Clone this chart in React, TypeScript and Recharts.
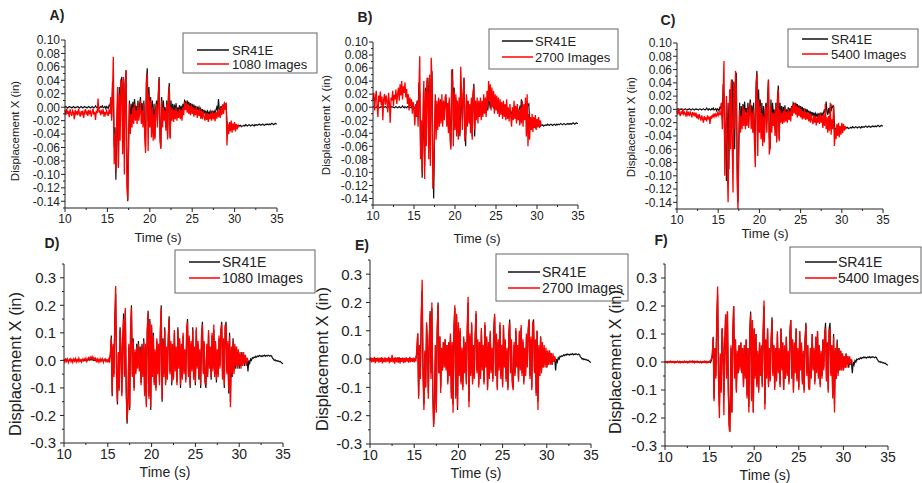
import React from 'react';
import { LineChart, Line, XAxis, YAxis } from 'recharts';

// ---------- DATA ----------
const START_TIME = 10; // s
const TIME_STEP = 0.1; // s

const timeTicks = [10, 12.5, 15, 17.5, 20, 22.5, 25, 27.5, 30, 32.5, 35];
const timeLabels = [10, 15, 20, 25, 30, 35];
const topTicks = [-0.15, -0.14, -0.13, -0.12, -0.11, -0.1, -0.09, -0.08, -0.07, -0.06, -0.05, -0.04, -0.03, -0.02, -0.01, 0, 0.01, 0.02, 0.03, 0.04, 0.05, 0.06, 0.07, 0.08, 0.09, 0.1];
const topLabels = [-0.14, -0.12, -0.1, -0.08, -0.06, -0.04, -0.02, 0, 0.02, 0.04, 0.06, 0.08, 0.1];
const bottomTicks = [-0.3, -0.25, -0.2, -0.15, -0.1, -0.05, 0, 0.05, 0.1, 0.15, 0.2, 0.25, 0.3, 0.35];
const bottomLabels = [-0.3, -0.2, -0.1, 0, 0.1, 0.2, 0.3];

const refName = 'SR41E';
const imageNames = ['1080 Images', '2700 Images', '5400 Images'];
const panelLetters = ['A)', 'B)', 'C)', 'D)', 'E)', 'F)'];

// SR41E reference, top row (t = 10.0 .. 35.0, every 0.1 s)
const sr41eTop = [
  0.000, 0.001, 0.000, -0.001, 0.000, 0.001, 0.000, 0.000, -0.001, 0.000,
  0.001, 0.000, -0.001, 0.000, 0.000, 0.001, 0.000, -0.001, 0.000, 0.001,
  0.000, -0.001, 0.000, 0.001, 0.000, 0.000, -0.001, 0.000, 0.001, 0.000,
  -0.001, 0.000, 0.001, 0.000, -0.001, 0.000, 0.002, 0.000, -0.001, 0.001,
  0.000, -0.001, 0.001, 0.000, 0.002, -0.001, 0.000, 0.001, -0.002, 0.001,
  0.000, -0.002, 0.003, 0.002, 0.010, -0.015, 0.038, 0.020, -0.060, -0.030,
  -0.108, -0.040, 0.010, -0.090, 0.030, -0.020, 0.040, 0.045, -0.030, 0.042,
  -0.060, 0.035, 0.055, -0.080, -0.140, -0.050, 0.010, -0.030, 0.005, -0.015,
  0.008, -0.010, 0.012, -0.005, 0.002, -0.012, 0.010, -0.008, 0.004, 0.015,
  -0.010, 0.006, -0.020, 0.010, -0.030, -0.060, 0.040, 0.058, -0.020, 0.030,
  -0.010, 0.015, -0.030, 0.010, -0.040, 0.005, -0.045, 0.000, 0.010, -0.020,
  0.020, 0.045, -0.040, -0.060, 0.015, -0.020, 0.010, -0.010, 0.000, -0.030,
  0.010, -0.045, 0.020, 0.036, -0.045, 0.010, -0.010, 0.005, -0.015, 0.004,
  -0.008, 0.006, -0.012, 0.000, -0.010, 0.003, -0.008, 0.002, -0.010, 0.005,
  -0.005, 0.010, 0.008, -0.002, 0.010, 0.004, 0.008, -0.002, 0.006, 0.000,
  0.005, -0.004, 0.004, -0.005, 0.002, -0.006, 0.001, -0.004, 0.000, -0.006,
  -0.002, -0.008, -0.003, -0.009, -0.004, -0.010, -0.005, -0.011, -0.006, -0.010,
  -0.007, -0.012, -0.006, -0.010, -0.005, -0.011, -0.006, -0.009, -0.004, 0.000,
  -0.006, 0.012, -0.004, -0.008, 0.002, -0.006, 0.004, -0.003, 0.006, 0.003,
  0.005, -0.020, -0.035, -0.028, -0.032, -0.026, -0.030, -0.027, -0.031, -0.028,
  -0.030, -0.027, -0.029, -0.028, -0.029, -0.027, -0.028, -0.027, -0.029, -0.028,
  -0.028, -0.027, -0.028, -0.026, -0.027, -0.028, -0.027, -0.026, -0.027, -0.028,
  -0.027, -0.026, -0.027, -0.028, -0.026, -0.027, -0.026, -0.027, -0.026, -0.025,
  -0.026, -0.027, -0.026, -0.025, -0.026, -0.027, -0.026, -0.025, -0.026, -0.025,
  -0.026, -0.025, -0.026, -0.025, -0.024, -0.025, -0.026, -0.025, -0.024, -0.025,
  -0.025,
];

// 1080 images, top row (t = 10.0 .. 30.5)
const imagesA = [
  -0.004, -0.012, -0.002, -0.010, -0.006, -0.015, -0.003, -0.009, -0.013, -0.005,
  -0.008, -0.018, -0.004, -0.010, -0.007, -0.012, -0.002, -0.009, -0.014, -0.006,
  -0.010, -0.005, -0.016, -0.008, -0.003, -0.011, -0.007, -0.013, -0.004, -0.009,
  -0.006, -0.014, -0.008, -0.002, -0.011, -0.007, -0.019, -0.005, -0.009, 0.013,
  -0.008, -0.004, -0.012, -0.006, -0.010, -0.003, -0.014, -0.007, -0.011, -0.005,
  -0.009, -0.013, -0.004, -0.010, 0.015, -0.020, 0.020, 0.075, -0.085, -0.040,
  -0.095, -0.020, 0.030, -0.090, 0.020, -0.050, 0.040, 0.035, -0.070, 0.045,
  -0.100, 0.030, 0.055, -0.120, -0.138, -0.060, 0.005, -0.040, -0.010, -0.030,
  0.000, -0.025, 0.005, -0.020, -0.005, -0.025, 0.005, -0.020, -0.008, 0.010,
  -0.025, -0.005, -0.030, 0.005, -0.040, -0.068, 0.035, 0.050, -0.065, 0.020,
  -0.030, 0.010, -0.045, 0.000, -0.050, -0.010, -0.048, -0.005, 0.005, -0.030,
  0.010, 0.042, -0.050, -0.062, 0.010, -0.030, 0.000, -0.020, -0.005, -0.035,
  0.005, -0.048, 0.015, 0.030, -0.047, 0.000, -0.020, -0.002, -0.022, -0.004,
  -0.018, 0.000, -0.020, -0.006, -0.016, -0.002, -0.018, -0.004, -0.020, 0.000,
  -0.012, 0.008, -0.004, 0.006, -0.008, 0.005, -0.010, 0.002, -0.012, 0.004,
  -0.010, 0.000, -0.014, -0.002, -0.012, 0.001, -0.016, -0.004, -0.013, -0.002,
  -0.017, -0.005, -0.018, -0.006, -0.014, -0.020, -0.008, -0.019, -0.009, -0.022,
  -0.010, -0.018, -0.008, -0.020, -0.006, -0.018, -0.009, -0.021, -0.007, -0.017,
  -0.005, -0.015, -0.003, -0.016, 0.000, -0.012, 0.004, -0.010, 0.007, -0.004,
  0.006, -0.057, -0.025, -0.040, -0.022, -0.036, -0.020, -0.038, -0.024, -0.034,
  -0.022, -0.036, -0.025, -0.033, -0.026, -0.030,
];

// 2700 images, top row (t = 10.0 .. 30.5)
const imagesB = [
  0.010, 0.022, -0.005, 0.015, 0.025, 0.002, -0.015, 0.018, 0.008, 0.024,
  0.003, 0.016, -0.020, 0.012, 0.020, 0.004, 0.018, 0.009, -0.008, 0.022,
  0.006, -0.024, 0.015, 0.010, 0.025, 0.002, 0.019, 0.012, 0.027, 0.005,
  0.020, 0.030, 0.010, 0.035, 0.018, 0.040, 0.012, 0.032, 0.022, 0.038,
  0.015, 0.028, 0.005, 0.020, -0.005, 0.015, 0.002, 0.012, -0.010, 0.008,
  -0.005, -0.028, 0.005, -0.015, 0.010, -0.030, 0.025, 0.078, -0.080, -0.020,
  -0.100, 0.000, 0.040, -0.110, 0.025, -0.060, 0.045, 0.020, -0.080, 0.050,
  -0.090, 0.076, 0.040, -0.125, -0.100, -0.040, 0.020, -0.050, 0.010, -0.035,
  0.015, -0.030, 0.010, -0.025, 0.020, -0.030, 0.010, -0.020, 0.015, 0.020,
  -0.030, 0.005, -0.040, 0.015, -0.050, -0.065, 0.058, 0.040, -0.060, 0.025,
  -0.035, 0.020, -0.045, 0.010, -0.050, 0.015, -0.040, 0.062, 0.020, -0.035,
  0.015, 0.045, -0.052, -0.040, 0.020, -0.030, 0.010, -0.025, 0.005, -0.040,
  0.015, -0.050, 0.020, 0.032, -0.035, 0.010, -0.020, 0.015, -0.025, 0.010,
  -0.015, 0.015, -0.020, 0.010, -0.015, 0.020, -0.010, 0.015, -0.015, 0.025,
  0.000, 0.040, 0.010, 0.035, -0.005, 0.030, 0.000, 0.025, -0.010, 0.020,
  -0.005, 0.018, -0.010, 0.015, -0.015, 0.012, -0.012, 0.008, -0.018, 0.010,
  -0.015, 0.005, -0.020, 0.012, -0.018, 0.000, -0.022, 0.005, -0.015, -0.030,
  0.000, -0.020, 0.010, -0.018, 0.002, -0.025, 0.005, -0.020, -0.005, -0.028,
  0.000, -0.025, 0.010, -0.030, 0.005, -0.020, 0.015, -0.045, 0.020, -0.060,
  -0.010, -0.050, -0.015, -0.035, -0.010, -0.038, -0.015, -0.032, -0.012, -0.035,
  -0.018, -0.030, -0.015, -0.032, -0.020, -0.028,
];

// 5400 images, top row (t = 10.0 .. 30.5)
const imagesC = [
  -0.002, -0.008, 0.002, -0.006, -0.010, -0.003, -0.007, 0.001, -0.009, -0.004,
  -0.006, -0.011, -0.002, -0.008, -0.005, -0.010, -0.003, -0.007, -0.012, -0.004,
  -0.008, -0.006, -0.011, -0.005, -0.013, -0.008, -0.015, -0.007, -0.012, -0.017,
  -0.009, -0.014, -0.020, -0.010, -0.016, -0.012, -0.018, -0.009, -0.015, -0.011,
  -0.022, -0.010, -0.014, -0.008, -0.012, -0.006, -0.011, -0.007, -0.010, -0.005,
  -0.009, -0.004, -0.008, -0.008, 0.010, -0.030, 0.020, 0.073, -0.100, -0.030,
  0.020, -0.080, -0.140, -0.040, 0.030, -0.060, 0.045, -0.050, -0.125, 0.040,
  -0.030, 0.058, 0.030, -0.110, -0.150, -0.060, 0.000, -0.035, -0.010, -0.030,
  0.005, -0.025, 0.000, -0.030, -0.005, -0.025, 0.005, -0.028, -0.005, 0.010,
  -0.030, -0.005, -0.035, 0.000, -0.050, -0.087, 0.030, 0.052, -0.070, 0.015,
  -0.035, 0.005, -0.045, -0.005, -0.055, -0.010, -0.050, -0.005, 0.005, -0.035,
  0.010, 0.044, -0.068, -0.055, 0.005, -0.035, -0.005, -0.025, -0.005, -0.040,
  0.005, -0.050, 0.015, 0.030, -0.048, 0.000, -0.020, -0.005, -0.022, -0.002,
  -0.020, 0.002, -0.018, -0.004, -0.020, 0.000, -0.016, -0.003, -0.018, 0.004,
  -0.010, 0.008, -0.006, 0.010, -0.008, 0.006, -0.012, 0.004, -0.010, 0.003,
  -0.012, 0.000, -0.015, -0.003, -0.014, 0.000, -0.016, -0.005, -0.015, -0.004,
  -0.018, -0.006, -0.020, -0.008, -0.016, -0.022, -0.009, -0.020, -0.010, -0.024,
  -0.012, -0.020, -0.008, -0.022, -0.006, -0.020, -0.010, -0.028, -0.008, -0.025,
  0.008, -0.030, -0.012, -0.035, -0.010, -0.032, 0.010, -0.038, -0.015, -0.030,
  0.005, -0.055, -0.030, -0.045, -0.022, -0.040, -0.020, -0.042, -0.025, -0.038,
  -0.020, -0.036, -0.022, -0.032, -0.025, -0.030,
];

// SR41E reference, bottom row (t = 10.0 .. 35.0)
const sr41eBottom = [
  0.000, 0.002, -0.001, 0.001, 0.000, -0.002, 0.001, 0.000, 0.002, -0.001,
  0.000, 0.001, -0.002, 0.000, 0.002, 0.000, -0.001, 0.001, 0.000, -0.002,
  0.001, 0.000, 0.002, -0.001, 0.000, 0.001, -0.002, 0.000, 0.003, 0.001,
  0.002, 0.004, 0.001, 0.003, 0.000, 0.002, -0.001, 0.001, 0.000, -0.002,
  0.001, 0.000, -0.002, 0.001, 0.000, -0.001, 0.002, 0.000, -0.002, 0.001,
  0.000, -0.002, 0.005, 0.020, 0.090, -0.130, 0.050, -0.050, 0.150, 0.240,
  -0.050, -0.160, 0.020, -0.100, 0.120, 0.050, -0.120, 0.060, 0.170, -0.050,
  0.180, -0.100, -0.230, -0.150, 0.050, -0.180, 0.100, 0.200, -0.050, 0.080,
  -0.100, 0.030, -0.040, 0.060, -0.020, 0.070, -0.030, 0.050, -0.080, 0.060,
  -0.050, 0.080, -0.120, 0.050, -0.160, 0.100, 0.180, -0.130, 0.150, -0.180,
  0.120, -0.050, 0.100, -0.080, 0.030, -0.100, 0.070, -0.040, 0.050, -0.080,
  0.100, 0.200, -0.150, 0.080, -0.050, 0.120, -0.080, 0.040, -0.060, 0.080,
  0.160, -0.040, 0.060, -0.090, 0.050, -0.060, 0.100, -0.030, 0.040, -0.080,
  0.120, -0.020, 0.070, -0.100, 0.050, -0.060, 0.090, -0.040, 0.030, -0.070,
  0.100, 0.150, -0.050, 0.080, -0.100, 0.060, -0.030, 0.120, -0.060, 0.040,
  -0.090, 0.110, -0.020, 0.060, -0.070, 0.030, -0.100, 0.080, 0.140, -0.040,
  0.060, -0.080, -0.100, 0.050, -0.050, 0.100, -0.020, 0.040, -0.070, 0.090,
  -0.030, 0.110, -0.050, 0.060, -0.080, 0.030, -0.050, 0.080, -0.020, 0.100,
  0.140, -0.060, 0.070, -0.100, 0.120, 0.140, -0.040, 0.060, -0.120, 0.100,
  -0.150, 0.040, -0.060, 0.080, -0.040, 0.050, -0.030, 0.040, -0.020, 0.030,
  -0.030, 0.020, -0.020, 0.030, -0.010, 0.020, -0.020, 0.010, -0.010, 0.000,
  -0.040, 0.000, -0.010, 0.005, 0.000, 0.010, 0.008, 0.012, 0.010, 0.015,
  0.012, 0.016, 0.014, 0.018, 0.015, 0.017, 0.014, 0.018, 0.016, 0.019,
  0.015, 0.018, 0.016, 0.019, 0.017, 0.015, 0.018, 0.016, 0.008, 0.005,
  0.000, 0.002, -0.002, 0.000, -0.003, -0.002, -0.005, -0.004, -0.008, -0.010,
  -0.012,
];

// 1080 images, bottom row (t = 10.0 .. 31.0)
const imagesD = [
  0.004, -0.006, 0.008, -0.003, 0.005, -0.008, 0.002, 0.006, -0.005, 0.003,
  -0.007, 0.005, -0.002, 0.007, -0.006, 0.003, -0.004, 0.008, -0.003, 0.002,
  -0.006, 0.004, -0.002, 0.006, 0.000, 0.008, -0.004, 0.005, 0.010, 0.003,
  0.012, 0.006, 0.014, 0.004, 0.010, 0.002, 0.008, -0.003, 0.005, -0.006,
  0.004, -0.005, 0.006, -0.002, 0.005, -0.007, 0.003, 0.006, -0.004, 0.002,
  -0.005, 0.004, -0.008, 0.030, 0.080, -0.120, 0.060, -0.060, 0.140, 0.270,
  -0.060, -0.150, 0.030, -0.110, 0.110, 0.040, -0.130, 0.070, 0.150, -0.060,
  0.190, -0.110, -0.220, -0.160, 0.060, -0.170, 0.110, 0.190, -0.060, 0.070,
  -0.110, 0.040, -0.050, 0.050, -0.030, 0.060, -0.040, 0.040, -0.090, 0.050,
  -0.060, 0.070, -0.130, 0.060, -0.170, 0.110, 0.170, -0.140, 0.140, -0.170,
  0.130, -0.060, 0.090, -0.090, 0.040, -0.110, 0.080, -0.050, 0.060, -0.090,
  0.110, 0.190, -0.140, 0.070, -0.060, 0.110, -0.090, 0.050, -0.070, 0.070,
  0.150, -0.050, 0.070, -0.080, 0.060, -0.070, 0.110, -0.040, 0.050, -0.090,
  0.110, -0.030, 0.080, -0.090, 0.060, -0.070, 0.100, -0.050, 0.040, -0.080,
  0.110, 0.140, -0.060, 0.090, -0.090, 0.070, -0.040, 0.110, -0.070, 0.050,
  -0.080, 0.120, -0.030, 0.070, -0.060, 0.040, -0.090, 0.090, 0.130, -0.050,
  0.070, -0.070, -0.090, 0.060, -0.060, 0.110, -0.030, 0.050, -0.060, 0.100,
  -0.040, 0.130, -0.060, 0.070, -0.070, 0.040, -0.060, 0.090, -0.030, 0.110,
  0.130, -0.070, 0.080, -0.090, 0.130, 0.120, -0.050, 0.070, -0.110, 0.090,
  -0.170, 0.050, -0.050, 0.070, -0.050, 0.060, -0.020, 0.050, -0.030, 0.040,
  -0.020, 0.030, -0.030, 0.020, -0.020, 0.030, -0.010, 0.020, -0.020, 0.010,
  0.000,
];

// 2700 images, bottom row (t = 10.0 .. 31.0)
const imagesE = [
  -0.008, 0.006, -0.012, 0.003, -0.010, 0.008, -0.014, 0.002, -0.009, 0.005,
  -0.013, 0.004, -0.010, 0.007, -0.015, 0.001, -0.011, 0.006, -0.012, 0.003,
  -0.009, 0.008, -0.014, 0.002, -0.010, 0.015, -0.012, 0.004, -0.016, 0.006,
  -0.011, 0.003, -0.013, 0.007, -0.015, 0.002, -0.010, 0.005, -0.014, 0.004,
  -0.012, 0.006, -0.009, 0.003, -0.013, 0.008, -0.011, 0.002, -0.010, 0.005,
  -0.012, 0.004, -0.008, 0.040, 0.090, -0.140, 0.050, -0.070, 0.150, 0.280,
  -0.050, -0.180, 0.030, -0.100, 0.130, 0.050, -0.140, 0.060, 0.160, -0.070,
  0.200, -0.120, -0.240, -0.170, 0.050, -0.190, 0.100, 0.190, -0.050, 0.080,
  -0.120, 0.040, -0.040, 0.060, -0.030, 0.070, -0.040, 0.050, -0.090, 0.060,
  -0.060, 0.090, -0.140, 0.060, -0.190, 0.120, 0.190, -0.140, 0.160, -0.170,
  0.130, -0.060, 0.110, -0.090, 0.040, -0.110, 0.080, -0.050, 0.060, -0.090,
  0.110, 0.220, -0.170, 0.090, -0.060, 0.130, -0.090, 0.050, -0.070, 0.090,
  0.170, -0.050, 0.070, -0.100, 0.060, -0.070, 0.110, -0.040, 0.050, -0.090,
  0.130, -0.030, 0.080, -0.110, 0.060, -0.070, 0.100, -0.050, 0.040, -0.080,
  0.110, 0.160, -0.060, 0.090, -0.110, 0.070, -0.040, 0.130, -0.070, 0.050,
  -0.100, 0.120, -0.030, 0.070, -0.080, 0.040, -0.110, 0.090, 0.130, -0.050,
  0.070, -0.090, -0.110, 0.060, -0.060, 0.110, -0.030, 0.050, -0.080, 0.100,
  -0.040, 0.120, -0.060, 0.070, -0.090, 0.040, -0.060, 0.090, -0.030, 0.110,
  0.140, -0.070, 0.080, -0.110, 0.130, 0.130, -0.050, 0.070, -0.130, 0.100,
  -0.180, 0.050, -0.060, 0.080, -0.050, 0.060, -0.030, 0.050, -0.030, 0.040,
  -0.030, 0.030, -0.020, 0.030, -0.020, 0.020, -0.020, 0.020, -0.010, 0.010,
  -0.005,
];

// 5400 images, bottom row (t = 10.0 .. 31.0)
const imagesF = [
  0.002, -0.002, 0.001, -0.003, 0.002, -0.001, 0.003, -0.002, 0.001, -0.002,
  0.002, -0.003, 0.001, -0.001, 0.003, -0.002, 0.002, -0.003, 0.001, -0.001,
  0.002, -0.002, 0.003, -0.001, 0.002, -0.003, 0.001, -0.002, 0.003, -0.001,
  0.002, -0.002, 0.001, -0.003, 0.002, -0.001, 0.003, -0.002, 0.001, -0.002,
  0.002, -0.003, 0.001, -0.001, 0.003, -0.002, 0.002, -0.003, 0.001, -0.001,
  0.003, 0.006, 0.010, 0.030, 0.085, -0.140, 0.050, -0.060, 0.140, 0.270,
  -0.060, -0.200, 0.030, -0.110, 0.120, 0.040, -0.190, 0.070, 0.170, -0.060,
  0.180, -0.110, -0.240, -0.250, 0.060, -0.180, 0.110, 0.200, -0.060, 0.080,
  -0.110, 0.040, -0.040, 0.060, -0.030, 0.070, -0.040, 0.050, -0.090, 0.060,
  -0.060, 0.080, -0.130, 0.050, -0.180, 0.110, 0.170, -0.140, 0.150, -0.180,
  0.120, -0.060, 0.100, -0.090, 0.040, -0.110, 0.070, -0.050, 0.060, -0.090,
  0.110, 0.220, -0.170, 0.080, -0.060, 0.120, -0.090, 0.050, -0.070, 0.080,
  0.150, -0.050, 0.060, -0.100, 0.050, -0.070, 0.110, -0.040, 0.050, -0.090,
  0.120, -0.030, 0.070, -0.100, 0.060, -0.060, 0.090, -0.050, 0.040, -0.080,
  0.110, 0.150, -0.060, 0.080, -0.110, 0.070, -0.040, 0.120, -0.070, 0.050,
  -0.100, 0.110, -0.030, 0.070, -0.080, 0.040, -0.110, 0.080, 0.130, -0.050,
  0.060, -0.090, -0.100, 0.050, -0.060, 0.100, -0.030, 0.050, -0.080, 0.090,
  -0.040, 0.110, -0.060, 0.060, -0.090, 0.040, -0.060, 0.080, -0.030, 0.100,
  0.120, -0.070, 0.070, -0.110, 0.110, 0.120, -0.050, 0.060, -0.130, 0.090,
  -0.180, 0.050, -0.060, 0.070, -0.050, 0.050, -0.030, 0.040, -0.030, 0.030,
  -0.030, 0.020, -0.020, 0.030, -0.020, 0.020, -0.010, 0.020, -0.010, 0.010,
  0.000,
];

// ---------- LAYOUT / STYLE ----------
const FONT = '"Liberation Sans", Arial, sans-serif';
const TEXT = '#222';
const REF_COLOR = '#111';
const IMG_COLOR = '#ff0000';

const topStyle = { domain: [-0.15, 0.1], ticks: topTicks, labels: topLabels, digits: 2, yFont: 12, xFont: 12, yLen: 4, yGap: 1, xLen: 4, xGap: 2 };
const bottomStyle = { domain: [-0.3, 0.35], ticks: bottomTicks, labels: bottomLabels, digits: 1, yFont: 15, xFont: 14, yLen: 4, yGap: 4, xLen: 4, xGap: 2 };

const panels = [
  { ref: sr41eTop, img: imagesA, name: imageNames[0], letter: panelLetters[0], s: topStyle, plot: { l: 65, r: 277, t: 40, b: 208 },
    letterPos: [57, 15], yTitle: [15, 131, 11.5], xTitle: [158, 237, 13],
    legend: { x: 183, y: 33, w: 134, h: 40, rows: [50, 64], lx: [197, 229], tx: 232, fs: 13 } },
  { ref: sr41eTop, img: imagesB, name: imageNames[1], letter: panelLetters[1], s: topStyle, plot: { l: 373, r: 578, t: 42, b: 205 },
    letterPos: [365, 17], yTitle: [326, 125, 11.5], xTitle: [477, 238, 13],
    legend: { x: 489, y: 29, w: 129, h: 40, rows: [41, 57], lx: [502, 533], tx: 535, fs: 13 } },
  { ref: sr41eTop, img: imagesC, name: imageNames[2], letter: panelLetters[2], s: topStyle, plot: { l: 677, r: 883, t: 43, b: 209 },
    letterPos: [668, 20], yTitle: [631, 127, 11.5], xTitle: [765, 233, 13],
    legend: { x: 788, y: 29, w: 130, h: 38, rows: [39, 54], lx: [802, 828], tx: 831, fs: 13 } },
  { ref: sr41eBottom, img: imagesD, name: imageNames[0], letter: panelLetters[3], s: bottomStyle, plot: { l: 64, r: 283, t: 264, b: 443 },
    letterPos: [52, 243], yTitle: [15, 364, 16.5], xTitle: [165, 472, 14],
    legend: { x: 175, y: 250, w: 140, h: 43, rows: [262, 278], lx: [189, 220], tx: 222, fs: 14 } },
  { ref: sr41eBottom, img: imagesE, name: imageNames[1], letter: panelLetters[4], s: bottomStyle, plot: { l: 370, r: 591, t: 260, b: 444 },
    letterPos: [362, 245], yTitle: [322, 359, 16.5], xTitle: [476, 473, 14],
    legend: { x: 496, y: 254, w: 132, h: 47, rows: [272, 288], lx: [508, 540], tx: 542, fs: 14 } },
  { ref: sr41eBottom, img: imagesF, name: imageNames[2], letter: panelLetters[5], s: bottomStyle, plot: { l: 665, r: 888, t: 264, b: 446 },
    letterPos: [661, 240], yTitle: [615, 362, 16.5], xTitle: [765, 475, 14],
    legend: { x: 790, y: 247, w: 131, h: 46, rows: [262, 278], lx: [805, 837], tx: 838, fs: 14 } },
];

const isIn = (list: number[], v: number) => list.some((m) => Math.abs(m - v) < 1e-6);

function makeYTick(s: any) {
  return (props: any) => {
    const { x, y, payload } = props;
    const major = isIn(s.labels, payload.value);
    return (
      <g>
        <line x1={x - (major ? s.yLen : s.yLen / 2)} x2={x} y1={y} y2={y} stroke={TEXT} strokeWidth={1} />
        {major && (
          <text x={x - s.yLen - s.yGap} y={y} dy="0.36em" textAnchor="end" fontSize={s.yFont} fontFamily={FONT} fill={TEXT}>
            {payload.value.toFixed(s.digits)}
          </text>
        )}
      </g>
    );
  };
}

function makeXTick(s: any) {
  return (props: any) => {
    const { x, y, payload } = props;
    const major = isIn(timeLabels, payload.value);
    return (
      <g>
        <line x1={x} x2={x} y1={y} y2={y + (major ? s.xLen : s.xLen / 2)} stroke={TEXT} strokeWidth={1} />
        {major && (
          <text x={x} y={y + s.xLen + s.xGap} dy="0.74em" textAnchor="middle" fontSize={s.xFont} fontFamily={FONT} fill={TEXT}>
            {payload.value}
          </text>
        )}
      </g>
    );
  };
}

function Panel({ p }: { p: any }) {
  const YW = 50, MT = 8, MR = 8, XH = 30;
  const plotW = p.plot.r - p.plot.l;
  const plotH = p.plot.b - p.plot.t;
  const data = p.ref.map((v: number, i: number) => ({
    t: Math.round((START_TIME + i * TIME_STEP) * 10) / 10,
    ref: v,
    img: i < p.img.length ? p.img[i] : null,
  }));
  return (
    <div style={{ position: 'absolute', left: p.plot.l - YW, top: p.plot.t - MT }}>
      <LineChart width={YW + plotW + MR} height={MT + plotH + XH} data={data} margin={{ top: MT, right: MR, bottom: 0, left: 0 }}>
        <XAxis dataKey="t" type="number" domain={[10, 35]} ticks={timeTicks} interval={0} height={XH}
          tickSize={0} tickMargin={0} tickLine={false} axisLine={{ stroke: TEXT }} tick={makeXTick(p.s)} />
        <YAxis type="number" domain={p.s.domain} ticks={p.s.ticks} interval={0} width={YW} allowDataOverflow
          tickSize={0} tickMargin={0} tickLine={false} axisLine={{ stroke: TEXT }} tick={makeYTick(p.s)} />
        <Line dataKey="ref" name={refName} type="linear" stroke={REF_COLOR} strokeWidth={1.2} dot={false} activeDot={false} isAnimationActive={false} />
        <Line dataKey="img" name={p.name} type="linear" stroke={IMG_COLOR} strokeWidth={1.3} dot={false} activeDot={false} isAnimationActive={false} />
      </LineChart>
    </div>
  );
}

export default function App() {
  return (
    <div style={{ position: 'absolute', left: 0, top: 0, width: 922, height: 483, background: '#fff', overflow: 'hidden' }}>
      {panels.map((p, i) => <Panel key={i} p={p} />)}
      <svg width={922} height={483} style={{ position: 'absolute', left: 0, top: 0, pointerEvents: 'none' }}>
        {panels.map((p, i) => (
          <g key={i} fontFamily={FONT} fill={TEXT}>
            <text x={p.letterPos[0]} y={p.letterPos[1]} dy="0.36em" textAnchor="middle" fontSize={14} fontWeight="bold">{p.letter}</text>
            <text x={p.yTitle[0]} y={p.yTitle[1]} dy="0.36em" textAnchor="middle" fontSize={p.yTitle[2]}
              transform={`rotate(-90 ${p.yTitle[0]} ${p.yTitle[1]})`}>Displacement X (in)</text>
            <text x={p.xTitle[0]} y={p.xTitle[1]} dy="0.36em" textAnchor="middle" fontSize={p.xTitle[2]}>Time (s)</text>
            <rect x={p.legend.x} y={p.legend.y} width={p.legend.w} height={p.legend.h} fill="#fff" stroke="#666" strokeWidth={1} />
            <line x1={p.legend.lx[0]} x2={p.legend.lx[1]} y1={p.legend.rows[0]} y2={p.legend.rows[0]} stroke={REF_COLOR} strokeWidth={1.5} />
            <line x1={p.legend.lx[0]} x2={p.legend.lx[1]} y1={p.legend.rows[1]} y2={p.legend.rows[1]} stroke={IMG_COLOR} strokeWidth={1.5} />
            <text x={p.legend.tx} y={p.legend.rows[0]} dy="0.36em" fontSize={p.legend.fs}>{refName}</text>
            <text x={p.legend.tx} y={p.legend.rows[1]} dy="0.36em" fontSize={p.legend.fs}>{p.name}</text>
          </g>
        ))}
      </svg>
    </div>
  );
}
